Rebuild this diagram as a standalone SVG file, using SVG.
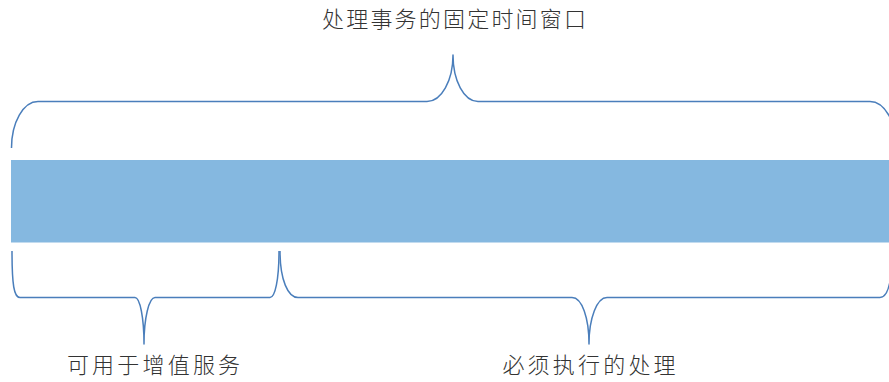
<svg xmlns="http://www.w3.org/2000/svg" width="889" height="382" viewBox="0 0 889 382">
<style>
.brace{fill:none;stroke:#4a7ebb;stroke-width:1.5;stroke-linejoin:round}
.lbl{font-family:"Noto Sans CJK SC","Noto Sans",sans-serif;font-size:22px;fill:#333333;text-anchor:middle;font-weight:300}
</style>
<rect width="889" height="382" fill="#ffffff"/>
<g id="bar"><rect x="11" y="160" width="878" height="82.5" fill="#85b8e0"/></g>
<g id="connectors">
<path id="brace-top" class="brace" d="M 11.5 148 C 11.5 122.3, 23.4 101.5, 38 101.5 L 427 101.5 C 441.4 101.5, 453 80.7, 453 55 C 453 80.7, 464 101.5, 478 101.5 L 870 101.5 C 884.6 101.5, 896.5 122.3, 896.5 148"/>
<path id="brace-left" class="brace" d="M 12 251 C 12 285, 14 297.5, 20 297.5 L 135 297.5 C 140 297.5, 144 318, 144 344 C 144 318, 149 297.5, 155 297.5 L 270 297.5 C 275 297.5, 279 280, 279 251"/>
<path id="brace-right" class="brace" d="M 280 251 C 280 280, 288 297.5, 298 297.5 L 572 297.5 C 582 297.5, 589 318, 589 344 C 589 318, 597 297.5, 607 297.5 L 880 297.5 C 888 297.5, 892 282, 892 251"/>
</g>
<g id="label-top"><text class="lbl" x="455.1" y="27" letter-spacing="2.2">处理事务的固定时间窗口</text></g>
<g id="label-left"><text class="lbl" x="155.1" y="373" letter-spacing="3.2">可用于增值服务</text></g>
<g id="label-right"><text class="lbl" x="590.6" y="373" letter-spacing="3.2">必须执行的处理</text></g>
</svg>
